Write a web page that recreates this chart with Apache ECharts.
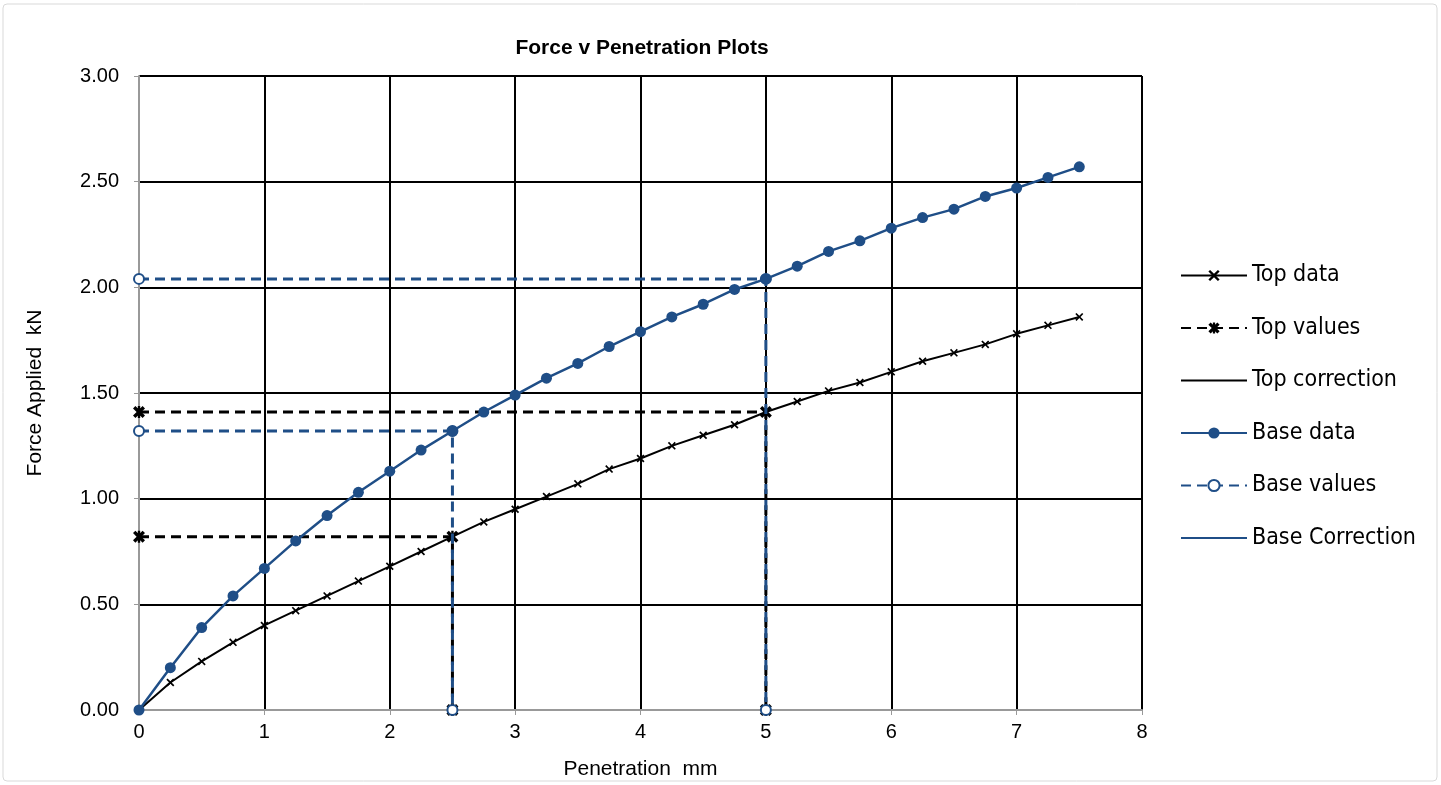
<!DOCTYPE html>
<html><head><meta charset="utf-8">
<script src="https://cdn.jsdelivr.net/npm/echarts@6/dist/echarts.min.js"></script>
<style>html,body{margin:0;padding:0;background:#fff}#c{width:1441px;height:785px}</style>
</head><body><div id="c"></div>
<script>
const penetration = [0,0.25,0.5,0.75,1,1.25,1.5,1.75,2,2.25,2.5,2.75,3,3.25,3.5,3.75,4,4.25,4.5,4.75,5,5.25,5.5,5.75,6,6.25,6.5,6.75,7,7.25,7.5];
const topData = [0,0.13,0.23,0.32,0.40,0.47,0.54,0.61,0.68,0.75,0.82,0.89,0.95,1.01,1.07,1.14,1.19,1.25,1.30,1.35,1.41,1.46,1.51,1.55,1.60,1.65,1.69,1.73,1.78,1.82,1.86];
const baseData = [0,0.20,0.39,0.54,0.67,0.80,0.92,1.03,1.13,1.23,1.32,1.41,1.49,1.57,1.64,1.72,1.79,1.86,1.92,1.99,2.04,2.10,2.17,2.22,2.28,2.33,2.37,2.43,2.47,2.52,2.57];
const topValuesX = [0,2.5,2.5,null,0,5,5];
const topValuesY = [0.82,0.82,0,null,1.41,1.41,0];
const baseValuesX = [0,2.5,2.5,null,0,5,5];
const baseValuesY = [1.32,1.32,0,null,2.04,2.04,0];
const yTicks = ['0.00','0.50','1.00','1.50','2.00','2.50','3.00'];

const pairs = (xs, ys) => xs.map((x,i) => x === null ? [null,null] : [x, ys[i]]);
const BLUE = '#1f4e87';
const xPath = 'path://M0,1.5 L1.5,0 L5,3.5 L8.5,0 L10,1.5 L6.5,5 L10,8.5 L8.5,10 L5,6.5 L1.5,10 L0,8.5 L3.5,5 Z';
const starPath = 'path://M0,2 L2,0 L5,3 L8,0 L10,2 L7,5 L10,8 L8,10 L5,7 L2,10 L0,8 L3,5 Z M4,0 L6,0 L6,10 L4,10 Z';
const NARROW = '"Liberation Sans Narrow", "Arial Narrow", "DejaVu Sans Condensed", sans-serif';

const chart = echarts.init(document.getElementById('c'));
chart.setOption({
  animation: false,
  textStyle: { fontFamily: 'Liberation Sans, Arial, sans-serif' },
  title: { text: 'Force v Penetration Plots', left: 637, top: 33, textAlign: 'center',
    textStyle: { fontSize: 21, fontWeight: 'bold', color: '#000' } },
  graphic: [{ type: 'rect', shape: { x: 3, y: 4, width: 1434, height: 777, r: 4 },
    style: { fill: 'none', stroke: '#d9d9d9', lineWidth: 1 }, silent: true }],
  grid: { left: 139, top: 76, right: 299, bottom: 74 },
  legend: {
    orient: 'vertical', left: 1175, top: 259, itemWidth: 66, itemHeight: 14, itemGap: 29.5,
    textStyle: { fontSize: 23, color: '#000', fontFamily: NARROW },
    data: [
      'Top data', 'Top values',
      { name: 'Top correction', itemStyle: { opacity: 0 } },
      'Base data', 'Base values',
      { name: 'Base Correction', itemStyle: { opacity: 0 } }
    ]
  },
  xAxis: {
    type: 'value', min: 0, max: 8, interval: 1,
    name: 'Penetration  mm', nameLocation: 'middle', nameGap: 49,
    nameTextStyle: { fontSize: 21, color: '#000' },
    axisLine: { lineStyle: { color: '#999', width: 2 } },
    axisTick: { show: true, length: 5, lineStyle: { color: '#999' } },
    axisLabel: { fontSize: 20, color: '#000', margin: 12 },
    splitLine: { lineStyle: { color: '#000', width: 2 } }
  },
  yAxis: {
    type: 'value', min: 0, max: 3, interval: 0.5,
    name: 'Force Applied  kN', nameLocation: 'middle', nameGap: 93, nameRotate: 90,
    nameTextStyle: { fontSize: 21, color: '#000' },
    axisLine: { show: true, lineStyle: { color: '#999', width: 2 } },
    axisTick: { show: true, length: 5, lineStyle: { color: '#999' } },
    axisLabel: { fontSize: 20, color: '#000', margin: 20, formatter: v => yTicks[Math.round(v*2)] },
    splitLine: { lineStyle: { color: '#000', width: 2 } }
  },
  series: [
    { name: 'Top data', type: 'line', data: pairs(penetration, topData),
      symbol: xPath, symbolSize: 8, itemStyle: { color: '#000' },
      lineStyle: { color: '#000', width: 2 }, z: 3 },
    { name: 'Top values', type: 'line', data: pairs(topValuesX, topValuesY), connectNulls: false,
      symbol: starPath, symbolSize: 12, itemStyle: { color: '#000' },
      lineStyle: { color: '#000', width: 3, type: [10, 6] }, z: 4 },
    { name: 'Top correction', type: 'line', data: [], symbol: 'none',
      itemStyle: { color: '#000' }, lineStyle: { color: '#000', width: 3 } },
    { name: 'Base values', type: 'line', data: pairs(baseValuesX, baseValuesY), connectNulls: false,
      symbol: 'emptyCircle', symbolSize: 10, itemStyle: { color: BLUE, borderWidth: 2 },
      lineStyle: { color: BLUE, width: 3, type: [10, 6] }, z: 5 },
    { name: 'Base data', type: 'line', data: pairs(penetration, baseData),
      symbol: 'circle', symbolSize: 11, itemStyle: { color: BLUE },
      lineStyle: { color: BLUE, width: 2.5 }, z: 6 },
    { name: 'Base Correction', type: 'line', data: [], symbol: 'none',
      itemStyle: { color: BLUE }, lineStyle: { color: BLUE, width: 3 } }
  ]
});
</script></body></html>
